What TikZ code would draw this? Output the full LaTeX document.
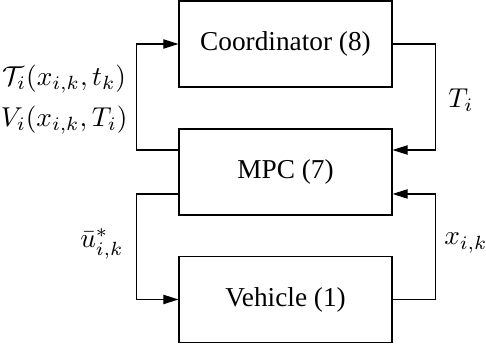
\documentclass[tikz,border=0pt]{standalone}
\usepackage{fontspec}
\setmainfont{Liberation Serif}
\usetikzlibrary{positioning,arrows.meta}
\begin{document}
\begin{tikzpicture}[x=0.01288cm,y=-0.01288cm,>={Triangle[length=5.5pt,width=3.4pt]}]
\useasboundingbox (0,0) rectangle (486,349);
\tikzset{blk/.style={draw, minimum width=2.744cm, minimum height=1.108cm, inner sep=0pt}}
\node [blk] (coord) at (285.5,44) {Coordinator (8)};
\node [blk] (mpc) at (285.5,172) {MPC (7)};
\node [blk] (veh) at (285.5,299.5) {Vehicle (1)};
\draw [->] ([yshift=0.283cm]mpc.west) -- ++(-42,0) |- (coord.west);
\draw [->] (coord.east) -- ++(43,0) |- ([yshift=0.283cm]mpc.east);
\draw [->] ([yshift=-0.283cm]mpc.west) -- ++(-42,0) |- (veh.west);
\draw [->] (veh.east) -- ++(43,0) |- ([yshift=-0.283cm]mpc.east);
\node [anchor=east, align=center, inner sep=0pt] (lbl1) at (128,100) {$\mathcal{T}_i(x_{i,k},t_k)$\\[3pt]$V_i(x_{i,k},T_i)$};
\node (lbl2) at (461,100) {$T_i$};
\node (lbl3) at (466,243) {$x_{i,k}$};
\node (lbl4) at (102,244) {$\bar{u}^*_{i,k}$};
\end{tikzpicture}
\end{document}
